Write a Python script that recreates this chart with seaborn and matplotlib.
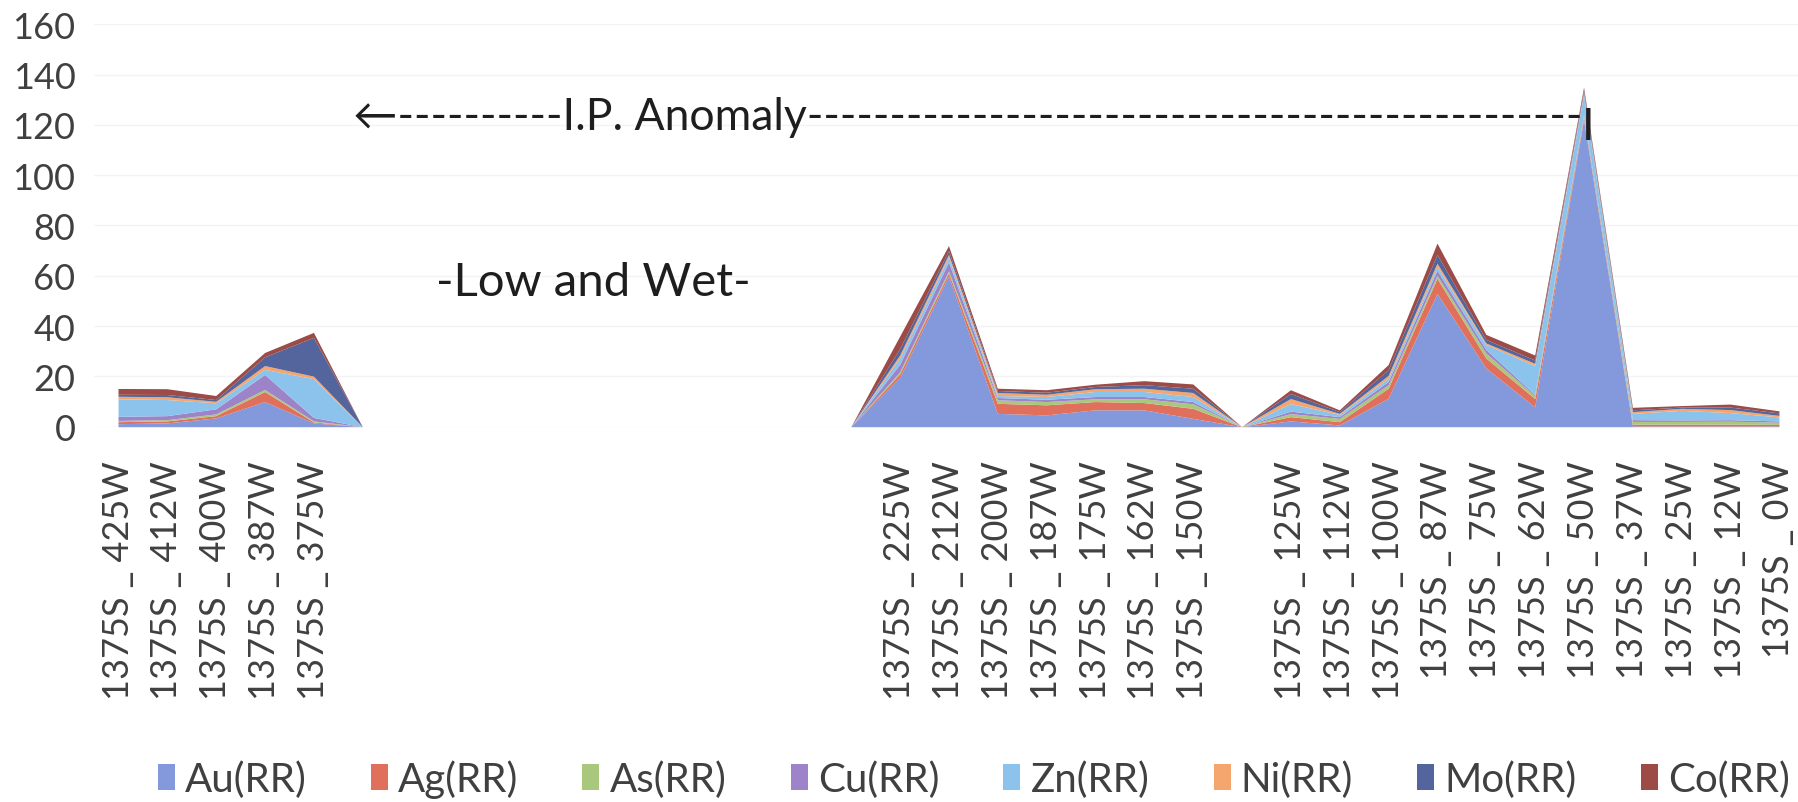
import matplotlib
matplotlib.use("Agg")
import matplotlib.pyplot as plt
from matplotlib.patches import Patch
import numpy as np
import seaborn as sns

# Stations along line 1375S (blank entries are stations with no sample)
stations = ["425W", "412W", "400W", "387W", "375W",
            None, None, None, None, None, None, None, None, None, None, None,
            "225W", "212W", "200W", "187W", "175W", "162W", "150W",
            None,
            "125W", "112W", "100W", "87W", "75W", "62W", "50W",
            "37W", "25W", "12W", "0W"]

au = [1.2, 1.5, 3.5, 10.0, 1.5, 0, 0, 0, 0, 0, 0, 0, 0, 0, 0, 0,
      19.5, 60.0, 5.3, 4.7, 6.7, 6.7, 3.3, 0,
      2.3, 0.7, 11.3, 53.0, 23.3, 7.9, 122.0, 0.3, 0.3, 0.3, 0.3]
ag = [0.8, 0.8, 0.9, 4.0, 0.4, 0, 0, 0, 0, 0, 0, 0, 0, 0, 0, 0,
      1.5, 1.2, 4.0, 4.0, 3.3, 2.9, 4.0, 0,
      1.7, 1.3, 4.0, 6.0, 4.0, 3.3, 0.8, 0.7, 0.7, 0.7, 0.6]
as_ = [0.5, 0.5, 0.7, 0.8, 0.4, 0, 0, 0, 0, 0, 0, 0, 0, 0, 0, 0,
       0.8, 0.8, 1.4, 1.3, 1.1, 1.5, 1.8, 0,
       1.2, 1.3, 1.4, 1.2, 2.0, 1.1, 0.5, 1.1, 1.1, 1.2, 0.9]
cu = [1.6, 1.6, 2.0, 6.0, 1.4, 0, 0, 0, 0, 0, 0, 0, 0, 0, 0, 0,
      3.0, 3.5, 0.9, 0.9, 0.9, 0.9, 0.9, 0,
      1.0, 0.7, 1.3, 2.0, 1.4, 0.5, 0.8, 0.7, 0.6, 0.6, 0.5]
zn = [7.0, 6.4, 2.4, 2.0, 15.4, 0, 0, 0, 0, 0, 0, 0, 0, 0, 0, 0,
      2.5, 2.0, 0.8, 1.1, 2.0, 2.0, 2.0, 0,
      3.0, 0.9, 1.3, 1.5, 2.0, 11.5, 8.0, 2.5, 3.8, 2.8, 1.6]
ni = [1.0, 1.1, 0.6, 1.5, 1.0, 0, 0, 0, 0, 0, 0, 0, 0, 0, 0, 0,
      1.2, 1.0, 1.2, 0.9, 1.1, 1.3, 1.6, 0,
      2.0, 0.4, 1.1, 1.3, 0.6, 0.9, 0.8, 0.7, 0.8, 1.2, 0.6]
mo = [0.8, 0.9, 0.7, 3.5, 15.4, 0, 0, 0, 0, 0, 0, 0, 0, 0, 0, 0,
      2.5, 1.5, 0.8, 0.8, 0.9, 1.4, 1.7, 0,
      2.0, 0.7, 2.3, 3.5, 1.4, 1.3, 1.0, 0.7, 0.5, 1.0, 1.0]
co = [2.3, 2.3, 1.6, 1.7, 2.0, 0, 0, 0, 0, 0, 0, 0, 0, 0, 0, 0,
      5.0, 2.0, 0.9, 1.0, 0.9, 1.6, 1.7, 0,
      1.5, 0.7, 2.0, 4.5, 2.0, 2.0, 1.1, 1.0, 0.6, 1.2, 0.8]

series_names = ["Au(RR)", "Ag(RR)", "As(RR)", "Cu(RR)",
                "Zn(RR)", "Ni(RR)", "Mo(RR)", "Co(RR)"]
series_values = [au, ag, as_, cu, zn, ni, mo, co]
series_colors = ["#8399db", "#e0705c", "#a9c77d", "#9d84c9",
                 "#8cc3ec", "#f4a66e", "#53659c", "#9c4b46"]

y_ticks = [0, 20, 40, 60, 80, 100, 120, 140, 160]

sns.set_theme(style="white")
plt.rcParams["font.family"] = ["Lato", "DejaVu Sans"]

W, H = 1798, 803
fig = plt.figure(figsize=(W / 100, H / 100), dpi=100)
ax = fig.add_axes([93.6 / W, 1 - 427.7 / H, (W - 93.6) / W, (427.7 - 25.2) / H])

x = np.arange(len(stations))
palette = sns.color_palette(series_colors)
ax.stackplot(x, *[np.asarray(v, dtype=float) for v in series_values],
             colors=palette, linewidth=0, zorder=2)

ax.set_xlim(-0.5, 34.39)
ax.set_ylim(0, 160)
ax.set_yticks(y_ticks)
ax.set_yticklabels([str(v) for v in y_ticks])
ax.set_xticks(x)
ax.set_xticklabels(["1375S _ " + s if s else "" for s in stations], rotation=90)
ax.tick_params(axis="y", length=0, pad=13, labelsize=26, labelcolor="#404040")
ax.tick_params(axis="x", length=0, pad=24, labelsize=26, labelcolor="#404040")
for lbl in ax.get_xticklabels():
    lbl.set_verticalalignment("top")
ax.grid(axis="y", color="#f3f3f3", linewidth=1.0, zorder=0)
ax.grid(axis="x", visible=False)
for sp in ax.spines.values():
    sp.set_visible(False)

# Annotations
txt_kw = dict(color="#1e1e1e", family=["Lato", "DejaVu Sans"])
base = "\u2190" + "-" * 10 + "I.P. Anomaly"
ip = fig.text(353 / W, 1 - 117 / H, base + "-", ha="left", va="center",
              fontsize=32, **txt_kw)
renderer = fig.canvas.get_renderer()
n = 1
while n < 200:
    ip.set_text(base + "-" * n)
    x_end = ip.get_window_extent(renderer).x1
    if x_end >= 1577:
        break
    n += 1
fig.text(x_end / W, 1 - 140 / H, "I", ha="left", va="baseline",
         fontsize=32, **txt_kw)

fig.text(436 / W, 1 - 283 / H, "-Low and Wet-", ha="left", va="center",
         fontsize=34, **txt_kw)

handles = [Patch(facecolor=c, edgecolor="none") for c in palette]
fig.legend(handles, series_names, loc="center", bbox_to_anchor=(0.5415, 1 - 780 / H),
           ncol=8, frameon=False, fontsize=29, labelcolor="#404040",
           handlelength=0.42, handleheight=0.6, handletextpad=0.25,
           columnspacing=1.6, borderaxespad=0, borderpad=0)

fig.savefig("out.png", dpi=100, facecolor="white")
